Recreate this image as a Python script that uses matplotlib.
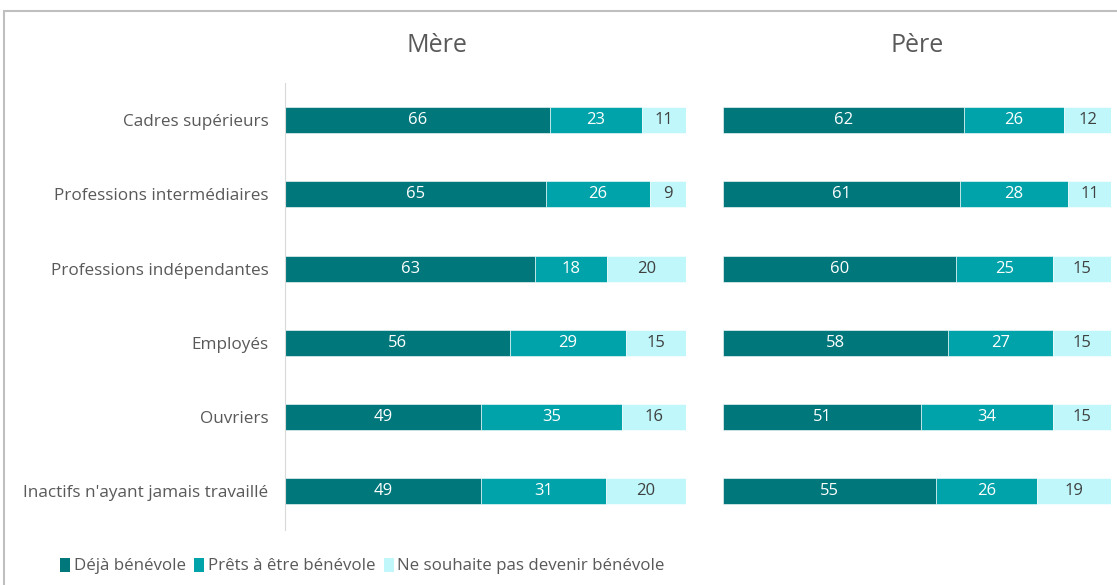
import matplotlib

matplotlib.use("Agg")
import matplotlib.pyplot as plt
from matplotlib.patches import Rectangle, Patch
import numpy as np

plt.rcParams["font.family"] = ["Open Sans", "DejaVu Sans"]

categories = [
    "Cadres supérieurs",
    "Professions intermédiaires",
    "Professions indépendantes",
    "Employés",
    "Ouvriers",
    "Inactifs n'ayant jamais travaillé",
]
series_names = ["Déjà bénévole", "Prêts à être bénévole", "Ne souhaite pas devenir bénévole"]
mere_deja = [66, 65, 63, 56, 49, 49]
mere_prets = [23, 26, 18, 29, 35, 31]
mere_non = [11, 9, 20, 15, 16, 20]
pere_deja = [62, 61, 60, 58, 51, 55]
pere_prets = [26, 28, 25, 27, 34, 26]
pere_non = [12, 11, 15, 15, 15, 19]

colors = ["#00777B", "#00A3A9", "#BFF7FA"]
text_colors = ["#FFFFFF", "#FFFFFF", "#404040"]
W, H = 1117, 585

fig = plt.figure(figsize=(W / 100, H / 100), dpi=100)
# outer frame
fig.patches.append(Rectangle((4 / W, -0.1), 1.2, 1.1 - 11 / H, transform=fig.transFigure,
                             fill=False, edgecolor="#BFBFBF", lw=1.5))


def panel(left, right, vals, title, title_x, show_labels):
    ax = fig.add_axes([left / W, 1 - 530 / H, (right - left) / W, (530 - 83) / H])
    y = np.arange(len(categories))
    totals = np.sum(vals, axis=0)
    start = np.zeros(len(categories))
    for k, v in enumerate(vals):
        v = np.array(v, dtype=float)
        w = v / totals * 100
        ax.barh(y, w, left=start, height=0.35, color=colors[k], edgecolor="white", lw=0.4)
        for yi, (s, wi, vi) in enumerate(zip(start, w, v)):
            ax.text(s + wi / 2, yi, f"{int(vi)}", ha="center", va="center",
                    fontsize=12, color=text_colors[k])
        start += w
    ax.set_xlim(0, 100)
    ax.set_ylim(5.52, -0.5)
    ax.set_xticks([])
    ax.set_yticks(y)
    if show_labels:
        ax.set_yticklabels(categories, fontsize=12.3, color="#595959")
    else:
        ax.set_yticklabels([])
    ax.tick_params(axis="y", length=0, pad=12)
    for s in ["top", "right", "bottom"]:
        ax.spines[s].set_visible(False)
    ax.spines["left"].set_visible(show_labels)
    ax.spines["left"].set_color("#D9D9D9")
    fig.text(title_x / W, 1 - 45 / H, title, ha="center", va="center", fontsize=18, color="#595959")
    return ax


panel(285, 686, [mere_deja, mere_prets, mere_non], "Mère", 437, True)
panel(723, 1111, [pere_deja, pere_prets, pere_non], "Père", 917, False)

handles = [Patch(facecolor=c, edgecolor="none") for c in colors]
fig.legend(handles, series_names, loc="center left", bbox_to_anchor=(45 / W, 1 - 566 / H),
           ncol=3, frameon=False, fontsize=12.2, handlelength=0.6, handleheight=0.9,
           handletextpad=0.2, columnspacing=0.5, labelcolor="#595959")

fig.savefig("out.png", dpi=100)
